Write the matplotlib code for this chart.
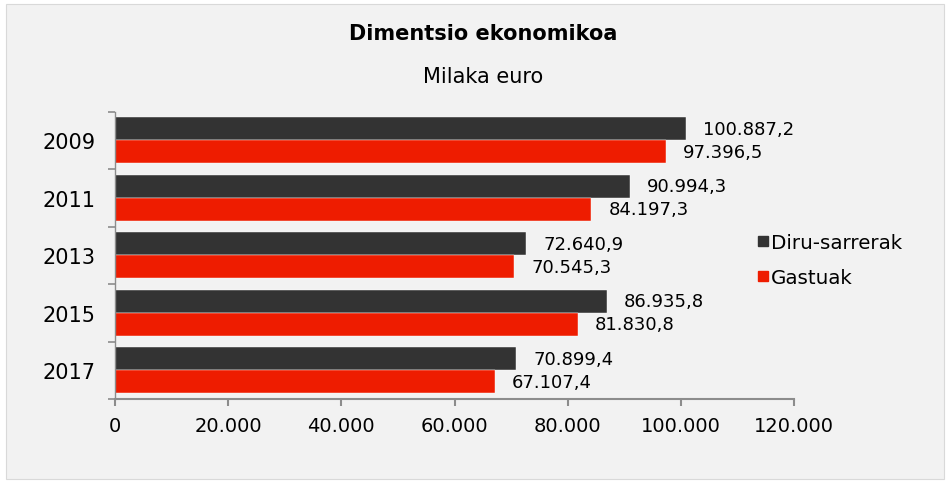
import numpy as np
import matplotlib.pyplot as plt
from matplotlib.patches import Rectangle
from matplotlib.lines import Line2D

years = ["2009", "2011", "2013", "2015", "2017"]
diru_sarrerak = [100887.2, 90994.3, 72640.9, 86935.8, 70899.4]
gastuak = [97396.5, 84197.3, 70545.3, 81830.8, 67107.4]
series_names = ["Diru-sarrerak", "Gastuak"]
xticks = [0, 20000, 40000, 60000, 80000, 100000, 120000]

dark = "#333333"
red = "#ee1c00"
bg = "#f2f2f2"
axcol = "#8c8c8c"


def fmt(v, dec=0):
    s = f"{v:,.{dec}f}"
    return s.replace(",", "X").replace(".", ",").replace("X", ".")


fig = plt.figure(figsize=(9.5, 4.85), dpi=100)
fig.patch.set_facecolor("white")
fig.patches.append(Rectangle((6 / 950, 5 / 485), 938 / 950, 475 / 485,
                             transform=fig.transFigure, facecolor=bg,
                             edgecolor="#d9d9d9", lw=0.8, zorder=-1))

ax = fig.add_axes([115 / 950, 1 - 400 / 485, (794 - 115) / 950, (400 - 112.5) / 485])
ax.set_facecolor(bg)

y = np.arange(len(years))
h = 0.4
ax.barh(y - h / 2, diru_sarrerak, height=h, color=dark, edgecolor="white", lw=0.3)
ax.barh(y + h / 2, gastuak, height=h, color=red, edgecolor="white", lw=0.3)

for i in range(len(years)):
    ax.text(diru_sarrerak[i] + 3000, y[i] - h / 2, fmt(diru_sarrerak[i], 1),
            va="center", ha="left", fontsize=13, color="black")
    ax.text(gastuak[i] + 3000, y[i] + h / 2, fmt(gastuak[i], 1),
            va="center", ha="left", fontsize=13, color="black")

ax.set_xlim(0, 120000)
ax.set_ylim(len(years) - 0.5, -0.5)
ax.set_xticks(xticks)
ax.set_xticklabels([fmt(t) for t in xticks], fontsize=14)
ax.set_yticks(y)
ax.set_yticklabels(years, fontsize=15)
ax.set_yticks(np.arange(-0.5, len(years), 1), minor=True)
ax.tick_params(axis="y", which="major", length=0, pad=14)
ax.tick_params(axis="y", which="minor", length=5, color=axcol, width=1.2)
ax.tick_params(axis="x", length=5, color=axcol, width=1.5, pad=7)
for s in ["top", "right"]:
    ax.spines[s].set_visible(False)
ax.spines["bottom"].set_color(axcol)
ax.spines["bottom"].set_linewidth(1.5)
ax.spines["left"].set_color(axcol)
ax.spines["left"].set_linewidth(1.0)

fig.text(483 / 950, 1 - 34 / 485, "Dimentsio ekonomikoa", ha="center", va="center",
         fontsize=15, fontweight="bold")
fig.text(483 / 950, 1 - 77 / 485, "Milaka euro", ha="center", va="center", fontsize=15)

handles = [Line2D([], [], marker="s", ls="", color=dark, markersize=7),
           Line2D([], [], marker="s", ls="", color=red, markersize=7)]
fig.legend(handles, series_names, loc="center left",
           bbox_to_anchor=(733 / 950, 1 - 261 / 485), frameon=False, fontsize=14.3,
           handletextpad=-0.2, labelspacing=0.8, handlelength=1.2)

fig.savefig("out.png", dpi=100, facecolor=fig.get_facecolor())
